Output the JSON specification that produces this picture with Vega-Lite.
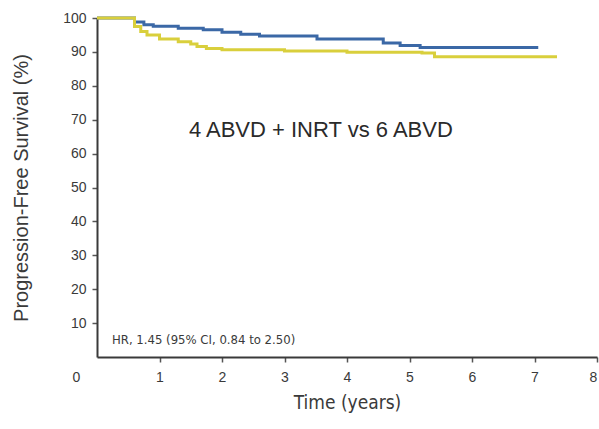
{
  "$schema": "https://vega.github.io/schema/vega-lite/v6.json",
  "width": 500,
  "height": 339,
  "autosize": {"type": "none"},
  "padding": {"left": 97, "top": 18, "right": 2, "bottom": 72},
  "background": "#ffffff",
  "config": {
    "view": {"stroke": null},
    "font": "Liberation Sans",
    "axis": {
      "grid": false,
      "domainColor": "#3a3a3a",
      "domainWidth": 2,
      "tickColor": "#555555",
      "tickWidth": 1.5,
      "tickSize": 5,
      "labelColor": "#3a3a3a",
      "titleColor": "#3a3a3a",
      "titleFontWeight": "normal",
      "labelFont": "Liberation Sans",
      "labelOverlap": false,
      "titleFont": "'DejaVu Sans Condensed', 'Liberation Sans', sans-serif"
    }
  },
  "datasets": {
    "pfs": [
      {"arm": "4 ABVD + INRT", "time": 0, "pfs": 100},
      {"arm": "4 ABVD + INRT", "time": 0.5, "pfs": 100},
      {"arm": "4 ABVD + INRT", "time": 0.6, "pfs": 98.8},
      {"arm": "4 ABVD + INRT", "time": 0.75, "pfs": 98.0},
      {"arm": "4 ABVD + INRT", "time": 0.9, "pfs": 97.6},
      {"arm": "4 ABVD + INRT", "time": 1.3, "pfs": 97.0},
      {"arm": "4 ABVD + INRT", "time": 1.7, "pfs": 96.5},
      {"arm": "4 ABVD + INRT", "time": 2.0, "pfs": 95.8},
      {"arm": "4 ABVD + INRT", "time": 2.3, "pfs": 95.2},
      {"arm": "4 ABVD + INRT", "time": 2.6, "pfs": 94.7},
      {"arm": "4 ABVD + INRT", "time": 3.52, "pfs": 93.8},
      {"arm": "4 ABVD + INRT", "time": 4.58, "pfs": 92.6},
      {"arm": "4 ABVD + INRT", "time": 4.85, "pfs": 91.9},
      {"arm": "4 ABVD + INRT", "time": 5.17, "pfs": 91.3},
      {"arm": "4 ABVD + INRT", "time": 7.06, "pfs": 91.3},
      {"arm": "6 ABVD", "time": 0, "pfs": 100},
      {"arm": "6 ABVD", "time": 0.5, "pfs": 100},
      {"arm": "6 ABVD", "time": 0.6, "pfs": 97.5},
      {"arm": "6 ABVD", "time": 0.7, "pfs": 96.0},
      {"arm": "6 ABVD", "time": 0.8, "pfs": 95.0},
      {"arm": "6 ABVD", "time": 1.0, "pfs": 93.8},
      {"arm": "6 ABVD", "time": 1.3, "pfs": 93.0},
      {"arm": "6 ABVD", "time": 1.5, "pfs": 92.3},
      {"arm": "6 ABVD", "time": 1.6, "pfs": 91.6},
      {"arm": "6 ABVD", "time": 1.75, "pfs": 91.0},
      {"arm": "6 ABVD", "time": 2.0, "pfs": 90.6},
      {"arm": "6 ABVD", "time": 3.0, "pfs": 90.3},
      {"arm": "6 ABVD", "time": 4.0, "pfs": 89.9},
      {"arm": "6 ABVD", "time": 5.2, "pfs": 89.7},
      {"arm": "6 ABVD", "time": 5.4, "pfs": 88.6},
      {"arm": "6 ABVD", "time": 7.36, "pfs": 88.6}
    ],
    "notes": [
      {"time": 1.47, "pfs": 67, "text": "4 ABVD + INRT vs 6 ABVD", "kind": "main"},
      {"time": 0.24, "pfs": 5, "text": "HR, 1.45 (95% CI, 0.84 to 2.50)", "kind": "hr"}
    ]
  },
  "layer": [
    {
      "data": {"name": "pfs"},
      "mark": {"type": "line", "interpolate": "step-after", "strokeWidth": 3, "strokeJoin": "miter"},
      "encoding": {
        "x": {
          "field": "time",
          "type": "quantitative",
          "scale": {"domain": [0, 8], "nice": false, "zero": false},
          "axis": {
            "title": "Time (years)",
            "values": [0, 1, 2, 3, 4, 5, 6, 7, 8],
            "tickCount": 12,
            "format": "d",
            "labelOverlap": false,
            "labelFontSize": 14,
            "labelPadding": 8,
            "labelFlush": false,
            "labelOffset": {"condition": [
              {"test": "datum.value == 0", "value": -21},
              {"test": "datum.value == 8", "value": -4}
            ], "value": 0},
            "tickOpacity": {"condition": {"test": "datum.value == 0", "value": 0}, "value": 1},
            "titleFontSize": 19,
            "titlePadding": 9
          }
        },
        "y": {
          "field": "pfs",
          "type": "quantitative",
          "scale": {"domain": [0, 100], "nice": false},
          "axis": {
            "title": "Progression-Free Survival  (%)",
            "titleFont": "Liberation Sans",
            "values": [10, 20, 30, 40, 50, 60, 70, 80, 90, 100],
            "tickCount": 12,
            "format": "d",
            "labelOverlap": false,
            "labelFontSize": 14,
            "labelPadding": 6,
            "titleFontSize": 20,
            "titlePadding": 31
          }
        },
        "color": {
          "field": "arm",
          "type": "nominal",
          "scale": {"domain": ["4 ABVD + INRT", "6 ABVD"], "range": ["#3b68a6", "#d9cf3c"]},
          "legend": null
        }
      }
    },
    {
      "data": {"name": "notes"},
      "transform": [{"filter": "datum.kind == 'main'"}],
      "mark": {"type": "text", "align": "left", "baseline": "middle", "fontSize": 22, "color": "#2a2a2a", "font": "Liberation Sans"},
      "encoding": {
        "x": {"field": "time", "type": "quantitative"},
        "y": {"field": "pfs", "type": "quantitative"},
        "text": {"field": "text"}
      }
    },
    {
      "data": {"name": "notes"},
      "transform": [{"filter": "datum.kind == 'hr'"}],
      "mark": {"type": "text", "align": "left", "baseline": "middle", "fontSize": 13, "color": "#3a3a3a", "font": "'DejaVu Sans Condensed', 'Liberation Sans', sans-serif"},
      "encoding": {
        "x": {"field": "time", "type": "quantitative"},
        "y": {"field": "pfs", "type": "quantitative"},
        "text": {"field": "text"}
      }
    }
  ]
}
